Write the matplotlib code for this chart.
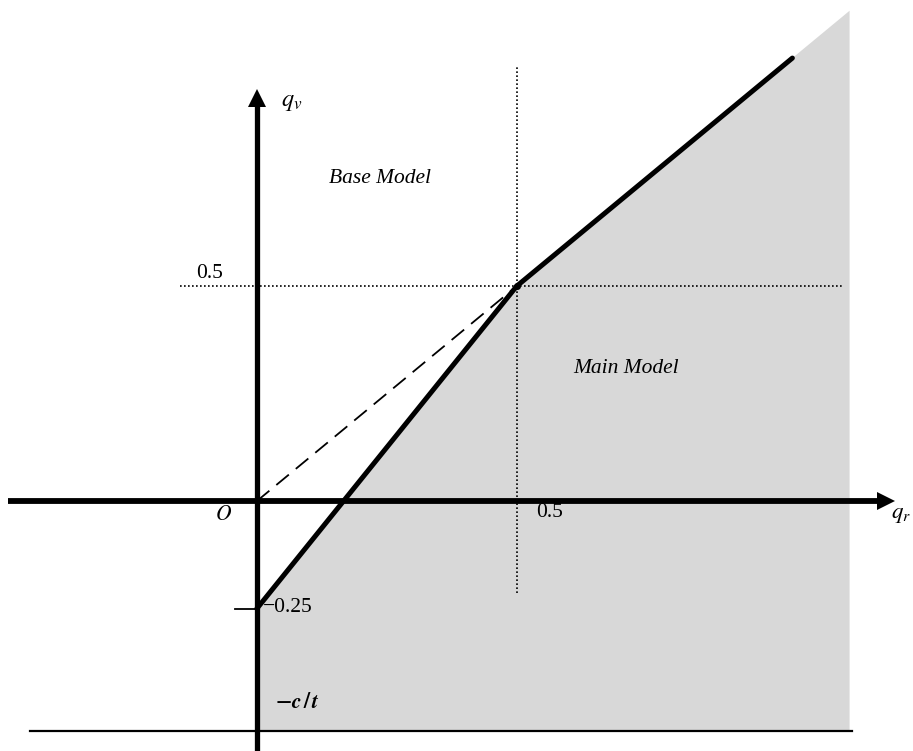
import numpy as np
import matplotlib
matplotlib.use("Agg")
import matplotlib.pyplot as plt
from matplotlib.transforms import offset_copy

plt.rcParams['mathtext.fontset'] = 'stix'
plt.rcParams['font.family'] = ['Liberation Serif', 'DejaVu Serif']

# boundary between the two models (q_r, q_v)
boundary_qr = [0.0, 0.5, 1.03]
boundary_qv = [-0.25, 0.5, 1.03]
# shaded "Main Model" region
shade_qr = [0.0, 0.0, 0.5, 1.14, 1.14]
shade_qv = [-0.535, -0.25, 0.5, 1.14, -0.535]
# dashed 45-degree reference from origin to kink
dash_qr = [0.0, 0.5]
dash_qv = [0.0, 0.5]
kink = (0.5, 0.5)
c_over_t = -0.535
tick_labels = {"x": "0.5", "y": "0.5", "neg": "\u22120.25"}

fig = plt.figure(figsize=(9.13, 7.51), dpi=100)
ax = fig.add_axes([0, 0, 1, 1])
ax.set_xlim(-0.494, 1.262)
ax.set_ylim(-0.581, 1.165)
ax.axis('off')

# shaded region
ax.fill(shade_qr, shade_qv, color='#d8d8d8', lw=0, zorder=0)

# dotted guide lines through the kink
ax.plot([kink[0], kink[0]], [-0.214, 1.009], color='k', lw=1.2,
        linestyle=(0, (1, 1.4)), zorder=1)
ax.plot([-0.148, 1.13], [kink[1], kink[1]], color='k', lw=1.2,
        linestyle=(0, (1, 1.4)), zorder=1)

# -c/t line
ax.plot([-0.437, 1.144], [c_over_t, c_over_t], color='k', lw=1.6, zorder=2)

# axes with arrows
ax.plot([-0.479, 1.20], [0, 0], color='k', lw=4.2, solid_capstyle='butt', zorder=3)
ax.plot([0, 0], [-0.62, 0.93], color='k', lw=3.8, solid_capstyle='butt', zorder=3)
tr_x = offset_copy(ax.transData, fig=fig, x=-6.5, y=0, units='points')
tr_y = offset_copy(ax.transData, fig=fig, x=0, y=-6.5, units='points')
ax.plot([1.227], [0], marker='>', ms=13, color='k', mew=0, transform=tr_x, zorder=4)
ax.plot([0], [0.958], marker='^', ms=13, color='k', mew=0, transform=tr_y, zorder=4)

# -0.25 tick
ax.plot([-0.042, 0], [-0.25, -0.25], color='k', lw=1.3, zorder=3)

# boundary lines
ax.plot(dash_qr, dash_qv, color='k', lw=1.3, linestyle=(0, (9, 5)), zorder=2)
ax.plot(boundary_qr, boundary_qv, color='k', lw=3.6, solid_capstyle='round',
        solid_joinstyle='round', zorder=4)
ax.plot([kink[0]], [kink[1]], 'o', color='k', ms=4, zorder=5)

# labels
fs = 15.5
ax.text(0.237, 0.751, 'Base Model', fontsize=fs, style='italic', ha='center', va='center')
ax.text(0.71, 0.309, 'Main Model', fontsize=fs, style='italic', ha='center', va='center')
ax.text(-0.065, -0.033, '$O$', fontsize=fs, ha='center', va='center')
ax.text(0.538, -0.026, tick_labels["x"], fontsize=fs, ha='left', va='center')
ax.text(-0.09, 0.53, tick_labels["y"], fontsize=fs, ha='center', va='center')
ax.text(0.011, -0.247, tick_labels["neg"], fontsize=fs, ha='left', va='center')
ax.text(1.258, -0.03, '$q_r$', fontsize=fs + 1, ha='right', va='center')
ax.text(0.046, 0.926, '$q_v$', fontsize=fs + 2, ha='left', va='center')
ax.text(0.035, -0.47, r'$\mathbf{-}\boldsymbol{c\,/\,t}$', fontsize=fs, ha='left', va='center')

fig.savefig('out.png', dpi=100)
